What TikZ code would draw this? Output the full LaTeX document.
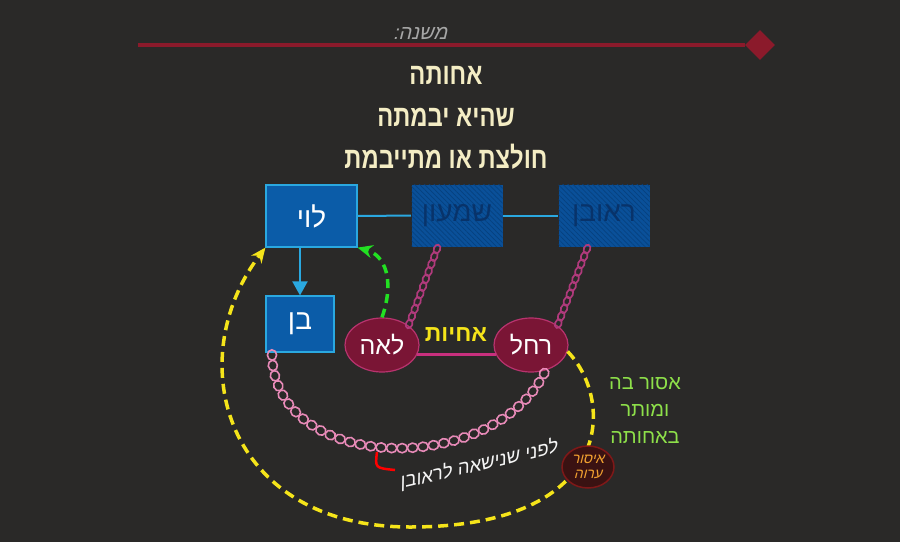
\documentclass[tikz,border=0pt]{standalone}
\usepackage{fontspec}
\usepackage{xcolor}
\usepackage{graphicx}
\usepackage{tikz}
\usetikzlibrary{arrows.meta,positioning,shapes.geometric,patterns.meta,decorations.markings}
\TeXXeTstate=1
\setmainfont{Liberation Sans}
\newfontfamily\heb[Script=Hebrew]{Liberation Sans}
\newfontfamily\hebit[Script=Hebrew,FakeSlant=0.25]{Liberation Sans}
\newcommand\rtl[1]{\beginR #1\endR}
\definecolor{bg}{HTML}{2A2928}
\definecolor{ruleRed}{HTML}{8B1A2B}
\definecolor{cream}{HTML}{F4EDC4}
\definecolor{boxblue}{HTML}{0B5CA8}
\definecolor{boxline}{HTML}{2AA8E0}
\definecolor{shadeblue}{HTML}{0A5099}
\definecolor{hatch}{HTML}{06417F}
\definecolor{darkname}{HTML}{08336A}
\definecolor{wine}{HTML}{7A1535}
\definecolor{rosy}{HTML}{B8336E}
\definecolor{sisterline}{HTML}{C8307E}
\definecolor{chainpink}{HTML}{E88AB8}
\definecolor{chainmag}{HTML}{B03A7C}
\definecolor{dashgreen}{HTML}{22E022}
\definecolor{dashyellow}{HTML}{F5E41A}
\definecolor{rulegreen}{HTML}{8EE04A}
\definecolor{ervafill}{HTML}{3A1212}
\definecolor{ervaline}{HTML}{7E1818}
\definecolor{ervatext}{HTML}{F0A030}
\tikzset{
  person/.style={rectangle, draw=boxline, fill=boxblue, line width=1.2pt,
    minimum width=91pt, minimum height=62pt, text=white, font=\heb\fontsize{28}{32}\selectfont},
  shaded/.style={person, draw=none, fill=shadeblue,
    postaction={pattern={Lines[angle=-45, distance=3.5pt, line width=0.7pt]}, pattern color=hatch}, text=darkname},
  woman/.style={ellipse, draw=rosy, fill=wine, line width=1.2pt,
    minimum width=74pt, minimum height=54pt, text=white, font=\heb\fontsize{25}{28}\selectfont},
  title/.style={text=cream, font=\heb\bfseries\fontsize{25}{30}\selectfont},
  link/.style={boxline, line width=2pt},
  smallchain/.style={decorate, decoration={markings,
    mark=between positions 0 and 1 step 8pt with {\draw[chainmag, line width=1.7pt] (0,0) ellipse (4.5pt and 3.2pt);}}},
  bigchain/.style={decorate, decoration={markings,
    mark=between positions 0 and 1 step 10.5pt with {\draw[chainpink, line width=1.6pt] (0,0) ellipse (5.2pt and 4.6pt);}}},
  arr/.style={-{Stealth[length=15pt,width=13pt]}, line width=3.5pt},
}

\begin{document}
\begin{tikzpicture}[x=1pt,y=-1pt]
  \fill[bg] (0,0) rectangle (900,542);
  \useasboundingbox (0,0) rectangle (900,542);
  % heading
  \node[diamond, fill=ruleRed, minimum width=30pt, minimum height=30pt, inner sep=0pt] (tip) at (760,45) {};
  \draw[ruleRed, line width=3.5pt] (138,45) -- (tip.west);
  \node[text=gray!70, font=\hebit\fontsize{20}{22}\selectfont] (mishna) at (420,33) {\rtl{משנה:}};
  \node[title] (t1) at (446,75) {\scalebox{0.95}[1.2]{\rtl{אחותה}}};
  \node[title] (t2) at (446,117) {\scalebox{0.95}[1.2]{\rtl{שהיא יבמתה}}};
  \node[title] (t3) at (446,157) {\scalebox{0.95}[1.2]{\rtl{חולצת או מתייבמת}}};
  % brothers
  \node[person] (levi) at (311.5,216) {\rtl{לוי}};
  \node[shaded] (shimon) at (457,215.5) {\rtl{שמעון}};
  \node[shaded] (reuven) at (604,215.5) {\rtl{ראובן}};
  \node[person, minimum width=68pt, minimum height=56pt] (ben) at (300,324) {\rtl{בן}};
  \draw[link] (levi) -- (shimon);
  \draw[link] (shimon) -- (reuven);
  \draw[link, -{Triangle[length=14pt,width=15pt]}] (levi.south -| ben.north) -- (ben.north);
  % sisters
  \node[woman] (leah) at (382,345) {\rtl{לאה}};
  \node[woman] (rahel) at (531,345) {\rtl{רחל}};
  \draw[sisterline, line width=2.5pt] (leah.-15) -- (rahel.195);
  \node[text=dashyellow, font=\heb\bfseries\fontsize{23}{26}\selectfont] (sisters) at (456,335) {\rtl{אחיות}};
  % marriages
  \coordinate (shimonlink) at (437,249);
  \coordinate (reuvenlink) at (587,249);
  \coordinate (benlink) at (272,355);
  \draw[smallchain] (shimonlink) -- (leah.north east);
  \draw[smallchain] (reuvenlink) -- (rahel.north east);
  \draw[bigchain] (benlink) .. controls (275,475) and (495,478) .. (rahel.-60);
  \draw[red, line width=2.5pt] (377,452) .. controls (375,468) .. (395,470);
  \node[rotate=13, text=white!92!gray, font=\hebit\fontsize{19}{22}\selectfont] (before) at (478,465) {\rtl{לפני שנישאה לראובן}};
  % yibbum
  \draw[arr, dashgreen, dash pattern=on 9pt off 6pt] (leah.north) .. controls (395,280) and (385,255) .. (levi.south east);
  \draw[arr, dashyellow, dash pattern=on 10pt off 6pt] (rahel.-10) .. controls (615,400) and (615,527) .. (410,527)
    .. controls (225,527) and (180,360) .. (levi.south west);
  \node[ellipse, fill=ervafill, draw=ervaline, line width=1.5pt, minimum width=52pt, minimum height=42pt,
    inner sep=0pt, align=center, text=ervatext, font=\hebit\fontsize{14}{15}\selectfont] (erva) at (588,467)
    {\rtl{איסור}\\\rtl{ערוה}};
  \node[align=center, text=rulegreen, font=\heb\fontsize{20}{27}\selectfont] (rule) at (645,410)
    {\rtl{אסור בה}\\\rtl{ומותר}\\\rtl{באחותה}};
\end{tikzpicture}
\end{document}
